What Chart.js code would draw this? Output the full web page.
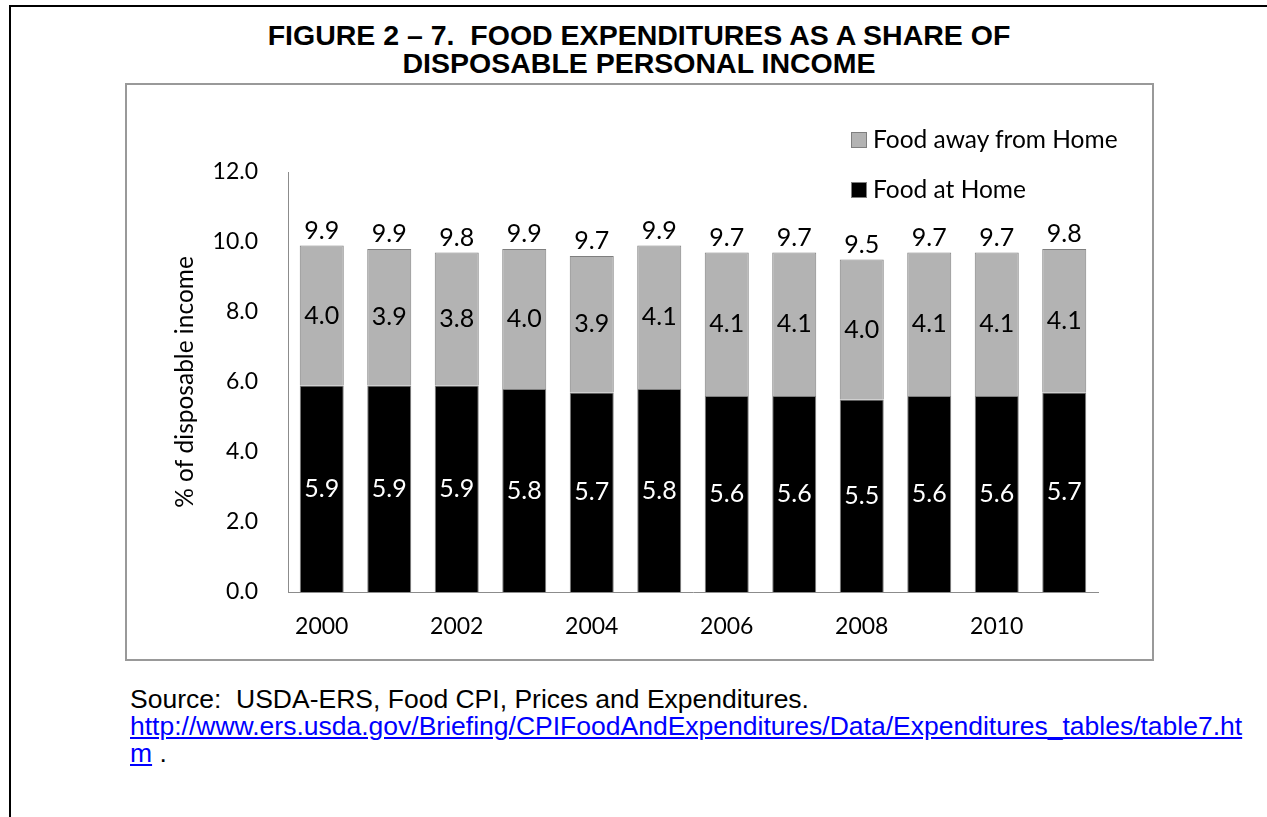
<!DOCTYPE html>
<html>
<head>
<meta charset="utf-8">
<script src="https://cdn.jsdelivr.net/npm/chart.js@4.4.0/dist/chart.umd.min.js"></script>
<style>
  body { margin: 0; background: #fff; width: 1267px; height: 817px; overflow: hidden; position: relative; }
  #frame { position: absolute; left: 9px; top: 5px; width: 1300px; height: 900px; border-left: 2px solid #000; border-top: 2px solid #000; }
  #title { position: absolute; left: 0; width: 1278px; top: 21px; text-align: center;
    font-family: "Liberation Sans", Arial, sans-serif; font-weight: bold; font-size: 28.5px; line-height: 28px; color: #000; }
  #box { position: absolute; left: 125px; top: 83px; width: 1025px; height: 574px; border: 2px solid #999; }
  #box canvas { position: absolute; left: 0; top: 0; }
  .leg { position: absolute; font-family: Lato, "Open Sans", sans-serif; font-size: 24.5px; color: #000; white-space: nowrap; }
  .leg span.sw { position: absolute; left: 0; width: 14px; height: 14px; border: 1px solid #7f7f7f; }
  .leg span.tx { position: absolute; left: 22px; }
  #source { position: absolute; left: 130px; top: 686px; font-family: "Liberation Sans", Arial, sans-serif; font-size: 26.5px; line-height: 27px; color: #000; white-space: nowrap; }
  #source a { color: #0000ff; text-decoration: underline; }
</style>
</head>
<body>
<div id="frame"></div>
<div id="title">FIGURE 2 – 7.&nbsp; FOOD EXPENDITURES AS A SHARE OF<br>DISPOSABLE PERSONAL INCOME</div>
<div id="box"><canvas id="chart" width="1025" height="574"></canvas></div>
<div id="legend"></div>
<div id="source">Source:&nbsp; USDA-ERS, Food CPI, Prices and Expenditures.<br><a href="#">http://www.ers.usda.gov/Briefing/CPIFoodAndExpenditures/Data/Expenditures_tables/table7.ht<br>m</a> .</div>
<script>
// values
let years = ["2000", "2001", "2002", "2003", "2004", "2005", "2006", "2007", "2008", "2009", "2010", "2011"];
let atHome = [5.9, 5.9, 5.9, 5.8, 5.7, 5.8, 5.6, 5.6, 5.5, 5.6, 5.6, 5.7];
let awayHome = [4.0, 3.9, 3.8, 4.0, 3.9, 4.1, 4.1, 4.1, 4.0, 4.1, 4.1, 4.1];
let totals = [9.9, 9.9, 9.8, 9.9, 9.7, 9.9, 9.7, 9.7, 9.5, 9.7, 9.7, 9.8];
let yTicks = [0, 2, 4, 6, 8, 10, 12];

const FONT = "Lato, 'Open Sans', sans-serif";

// draws the numbers on and above the bars
const barLabels = {
  id: "barLabels",
  afterDatasetsDraw(chart) {
    const ctx = chart.ctx;
    ctx.save();
    ctx.font = "25px " + FONT;
    ctx.textAlign = "center";
    const home = chart.getDatasetMeta(0).data;
    const away = chart.getDatasetMeta(1).data;
    home.forEach((bar, i) => {
      ctx.fillStyle = "#fff";
      ctx.textBaseline = "middle";
      ctx.fillText(atHome[i].toFixed(1), bar.x, (bar.y + bar.base) / 2);
    });
    away.forEach((bar, i) => {
      ctx.fillStyle = "#000";
      ctx.textBaseline = "middle";
      ctx.fillText(awayHome[i].toFixed(1), bar.x, (bar.y + bar.base) / 2);
      ctx.textBaseline = "alphabetic";
      ctx.fillText(totals[i].toFixed(1), bar.x, bar.y - 7);
    });
    ctx.restore();
  },
};

var chart = new Chart(document.getElementById("chart").getContext("2d"), {
  type: "bar",
  data: {
    labels: years,
    datasets: [
      {
        label: "Food at Home",
        data: atHome,
        backgroundColor: "#000000",
        borderColor: "#7f7f7f",
        borderWidth: 1,
        barPercentage: 0.652,
        categoryPercentage: 1,
      },
      {
        label: "Food away from Home",
        data: awayHome,
        backgroundColor: "#b3b3b3",
        borderColor: "#7f7f7f",
        borderWidth: 1,
        barPercentage: 0.652,
        categoryPercentage: 1,
      },
    ],
  },
  options: {
    responsive: false,
    animation: false,
    devicePixelRatio: 1,
    layout: { padding: { left: 0, right: 54, top: 87, bottom: 0 } },
    plugins: {
      legend: { display: false },
      tooltip: { enabled: false },
    },
    scales: {
      x: {
        stacked: true,
        grid: { display: false, drawTicks: false },
        border: { display: true, color: "#8c8c8c", width: 1 },
        ticks: {
          autoSkip: false,
          maxRotation: 0,
          padding: 21,
          color: "#000",
          font: { family: FONT, size: 23 },
          callback: function (value, index) {
            return index % 2 === 0 ? years[index] : "";
          },
        },
        afterFit: function (scale) {
          scale.height = 67;
        },
      },
      y: {
        stacked: true,
        min: 0,
        max: 12,
        grid: { display: false, drawTicks: false },
        border: { display: true, color: "#8c8c8c", width: 1 },
        afterBuildTicks: function (scale) {
          scale.ticks = yTicks.map((v) => ({ value: v }));
        },
        ticks: {
          padding: 30,
          color: "#000",
          font: { family: FONT, size: 23 },
          callback: function (value) {
            return value.toFixed(1);
          },
        },
        title: {
          display: true,
          text: "% of disposable income",
          color: "#000",
          font: { family: FONT, size: 24.5 },
          padding: { top: 43, bottom: 0 },
        },
        afterFit: function (scale) {
          scale.width = 161;
        },
      },
    },
  },
  plugins: [barLabels],
});

// legend, top item is the upper series
var legend = document.getElementById("legend");
var legTops = [132, 182];
chart.data.datasets.slice().reverse().forEach((ds, i) => {
  var item = document.createElement("div");
  item.className = "leg";
  item.style.left = "851px";
  item.style.top = legTops[i] + "px";
  item.innerHTML = '<span class="sw" style="background:' + ds.backgroundColor + '"></span>' +
    '<span class="tx">' + ds.label + "</span>";
  item.querySelector(".tx").style.top = "-8px";
  legend.appendChild(item);
});
</script>
</body>
</html>
